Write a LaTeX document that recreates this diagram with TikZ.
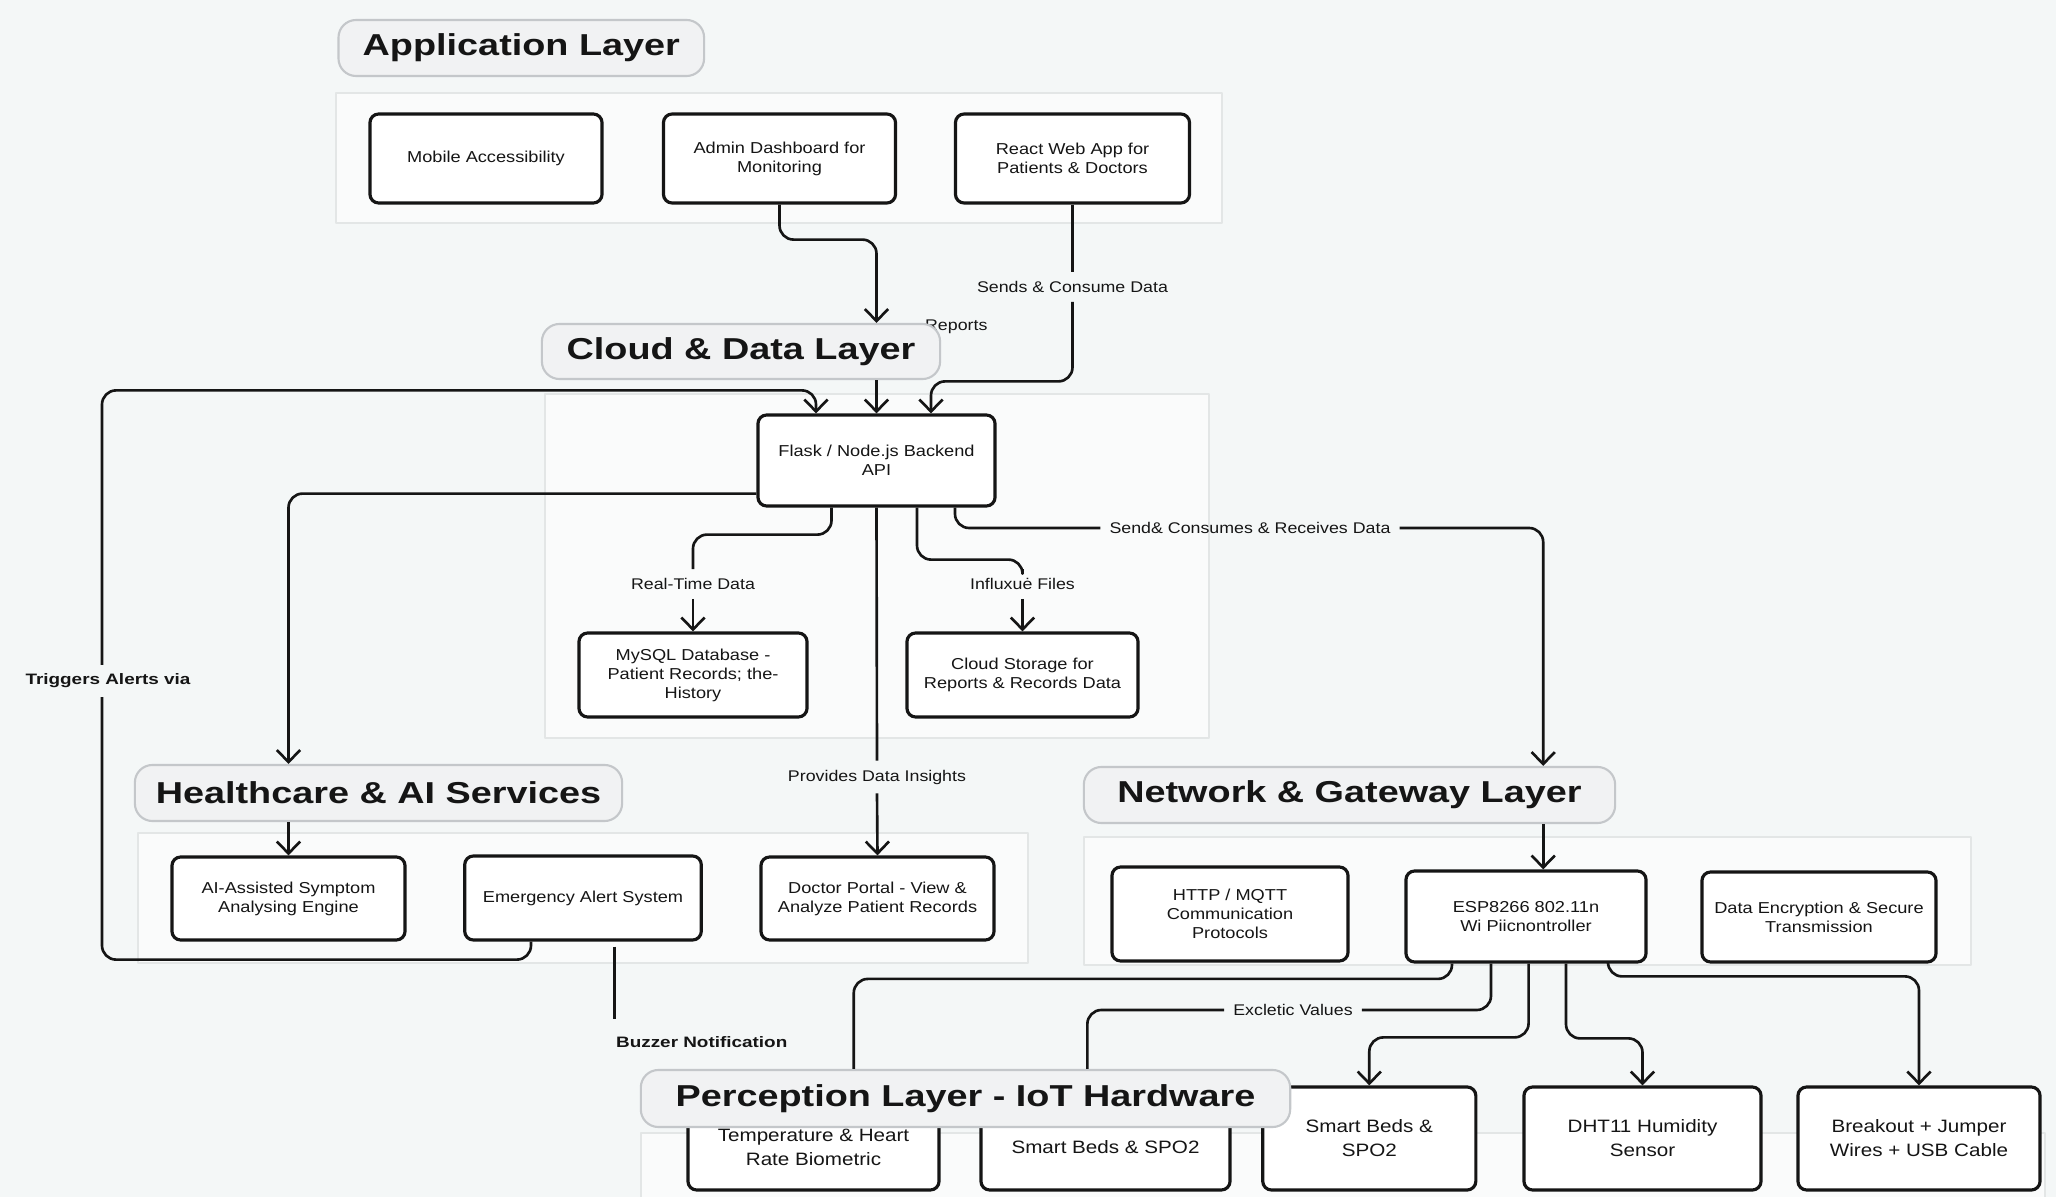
\documentclass[tikz,border=0pt]{standalone}
\usepackage{fontspec}
\setmainfont{Liberation Sans}
\newfontfamily\titlefont[FakeStretch=1.25]{Liberation Sans}
\newfontfamily\boxfont[FakeStretch=1.15]{Liberation Sans}
\usetikzlibrary{arrows.meta,calc}
\definecolor{bg}{HTML}{F4F7F7}
\definecolor{contfill}{HTML}{FAFBFB}
\definecolor{contline}{HTML}{E3E6E6}
\definecolor{titlefill}{HTML}{F1F2F3}
\definecolor{titleline}{HTML}{C4C7CA}
\definecolor{ink}{HTML}{151515}
\tikzset{
 conn/.style={draw=ink, line width=0.75pt, rounded corners=4pt},
 arr/.style={-{Straight Barb[length=3.4pt,width=6.6pt,line width=0.75pt]}},
 layer/.style={draw=titleline, fill=titlefill, line width=0.6pt, rounded corners=5pt, inner sep=0pt, text=ink, font=\titlefont\bfseries\fontsize{8.6}{10}\selectfont},
 box/.style={draw=ink, fill=white, line width=0.9pt, rounded corners=2.5pt, inner sep=0pt, align=center, text=ink, font=\boxfont\fontsize{4.5}{5.4}\selectfont},
 boxb/.style={box, font=\boxfont\fontsize{5.1}{6.8}\selectfont},
 elab/.style={inner sep=2.4pt, text=ink, font=\boxfont\fontsize{4.4}{5.2}\selectfont},
 blab/.style={inner sep=2.4pt, text=ink, font=\titlefont\bfseries\fontsize{4.3}{5.2}\selectfont},
 cont/.style={draw=contline, fill=contfill, line width=0.6pt},
}
\begin{document}
\begin{tikzpicture}[x=0.01cm, y=-0.01cm, line join=round]
\useasboundingbox (0,0) rectangle (2056,1197);
\fill[bg] (0,0) rectangle (2056,1197);

% containers
\node[cont, minimum width=8.86cm, minimum height=1.30cm] (cApp) at (779,158) {};
\node[cont, minimum width=6.64cm, minimum height=3.44cm] (cCloud) at (877,566) {};
\node[cont, minimum width=8.90cm, minimum height=1.30cm] (cHealth) at (583,898) {};
\node[cont, minimum width=8.87cm, minimum height=1.28cm] (cNet) at (1527.5,901) {};
\fill[contfill] (641,1133) rectangle (2045,1197);
\draw[contline, line width=0.6pt] (641,1197) |- (2045,1133) -- (2045,1197);

% boxes
\node[box, minimum width=2.32cm, minimum height=0.89cm] (mobile) at (486,158.5) {Mobile Accessibility};
\node[box, minimum width=2.32cm, minimum height=0.89cm] (admin) at (779.5,158.5) {Admin Dashboard for\\Monitoring};
\node[box, minimum width=2.34cm, minimum height=0.89cm] (react) at (1072.5,158.5) {React Web App for\\Patients \& Doctors};
\node[box, minimum width=2.37cm, minimum height=0.91cm] (flask) at (876.5,460.5) {Flask / Node.js Backend\\API};
\node[box, minimum width=2.28cm, minimum height=0.84cm] (mysql) at (693,675) {MySQL Database -\\Patient Records; the-\\History};
\node[box, minimum width=2.31cm, minimum height=0.84cm] (cstore) at (1022.5,675) {Cloud Storage for\\Reports \& Records Data};
\node[box, minimum width=2.33cm, minimum height=0.83cm] (ai) at (288.5,898.5) {AI-Assisted Symptom\\Analysing Engine};
\node[box, minimum width=2.365cm, minimum height=0.84cm] (emerg) at (583,898) {Emergency Alert System};
\node[box, minimum width=2.33cm, minimum height=0.83cm] (doctor) at (877.5,898.5) {Doctor Portal - View \&\\Analyze Patient Records};
\node[box, minimum width=2.36cm, minimum height=0.94cm] (http) at (1230,914) {HTTP / MQTT\\Communication\\Protocols};
\node[box, minimum width=2.40cm, minimum height=0.91cm] (esp) at (1526,916.5) {ESP8266 802.11n\\Wi Piicnontroller};
\node[box, minimum width=2.34cm, minimum height=0.90cm] (enc) at (1819,917) {Data Encryption \& Secure\\Transmission};
\node[boxb, minimum width=2.51cm, minimum height=0.85cm] (temp) at (813.5,1147.5) {Temperature \& Heart\\Rate Biometric};
\node[boxb, minimum width=2.49cm, minimum height=0.85cm] (sb1) at (1105.5,1147.5) {Smart Beds \& SPO2};
\node[boxb, minimum width=2.13cm, minimum height=1.03cm] (sb2) at (1369.3,1138.5) {Smart Beds \&\\SPO2};
\node[boxb, minimum width=2.37cm, minimum height=1.03cm] (dht) at (1642.5,1138.5) {DHT11 Humidity\\Sensor};
\node[boxb, minimum width=2.42cm, minimum height=1.03cm] (brk) at (1919,1138.5) {Breakout + Jumper\\Wires + USB Cable};

% partly hidden label
\node[elab, anchor=west] (lblRep) at (916,327) {Reports};

% layer titles
\node[layer, minimum width=3.654cm, minimum height=0.56cm] (tApp) at (521.3,48) {Application Layer};
\node[layer, minimum width=3.98cm, minimum height=0.55cm] (tCloud) at (741,351.5) {Cloud \& Data Layer};
\node[layer, minimum width=4.87cm, minimum height=0.56cm] (tHealth) at (378.5,793) {Healthcare \& AI Services};
\node[layer, minimum width=5.31cm, minimum height=0.56cm] (tNet) at (1349.5,795) {Network \& Gateway Layer};
\node[layer, minimum width=6.49cm, minimum height=0.57cm] (tPerc) at (965.5,1098.5) {Perception Layer - IoT Hardware};

% edge labels
\node[elab] (lblSends) at (1072.5,287) {Sends \& Consume Data};
\node[blab] (lblTrig) at (108,681) {Triggers Alerts via};
\coordinate (loopTop) at (102,392);
\node[elab] (lblRT) at (693,584) {Real-Time Data};
\node[elab] (lblIF) at (1022.5,584) {Influxuė Files};
\node[elab] (lblSend) at (1250,528) {Send\& Consumes \& Receives Data};
\node[elab] (lblPDI) at (877,777) {Provides Data Insights};
\node[blab, anchor=north west] (lblBuzz) at (607,1027) {Buzzer Notification};
\node[elab] (lblEx) at (1293,1010) {Excletic Values};
\coordinate (netx) at ($(tNet.south east)+(-73,0)$);

% connectors
\draw[conn, arr] (admin.south) -- ++(0,35) -| (flask.north |- tCloud.north);
\draw[conn, arr] (flask.north |- tCloud.south) -- (flask.north);
\draw[conn] (react.south) -- (lblSends.north);
\draw[conn, arr] (lblSends.south) |- ($(flask.north)+(54.5,-32)$) -- ($(flask.north)+(54.5,0)$);

\draw[conn] ($(emerg.south)+(-52,0)$) -- ++(0,18) -| (lblTrig.south -| loopTop);
\draw[conn, arr] (lblTrig.north -| loopTop) |- ($(flask.north)+(-60.5,-23)$) -- ($(flask.north)+(-60.5,0)$);

\draw[conn, arr] ($(flask.south west)+(0,-14)$) -| (tHealth.north -| ai.north);
\draw[conn, arr] (tHealth.south -| ai.north) -- (ai.north);

\draw[conn] ($(flask.south)+(-45,0)$) -- ++(0,27) -| (lblRT.north);
\draw[conn, arr] (lblRT.south) -- (mysql.north);
\draw[conn] ($(flask.south)+(40.5,0)$) -- ++(0,52) -| (lblIF.north);
\draw[conn, arr] (lblIF.south) -- (cstore.north);
\draw[conn] ($(flask.south)+(78.5,0)$) |- (lblSend.west);
\draw[conn, arr] (lblSend.east) -| (netx |- tNet.north);
\draw[conn] (flask.south) -- (lblPDI.north);
\draw[conn, arr] (lblPDI.south) -- (doctor.north);

\draw[conn, arr] (netx) -- (netx |- esp.north);
\draw[conn] ($(emerg.south)+(31.5,5)$) -- ($(lblBuzz.north west)+(7.5,-8)$);

\draw[conn] ($(esp.south)+(-74,0)$) |- ($(tPerc.north west)+(214,-90)$) -- ($(tPerc.north west)+(214,0)$);
\draw[conn] ($(esp.south)+(-35,0)$) |- (lblEx.east);
\draw[conn] (lblEx.west) -| ($(tPerc.north west)+(447.6,0)$);
\draw[conn, arr] ($(esp.south)+(2.6,0)$) |- ($(sb2.north)+(0,-48)$) -- (sb2.north);
\draw[conn, arr] ($(esp.south)+(40,0)$) |- ($(dht.north)+(0,-47)$) -- (dht.north);
\draw[conn, arr] ($(esp.south)+(82,0)$) |- ($(brk.north)+(0,-109)$) -- (brk.north);
\end{tikzpicture}
\end{document}
